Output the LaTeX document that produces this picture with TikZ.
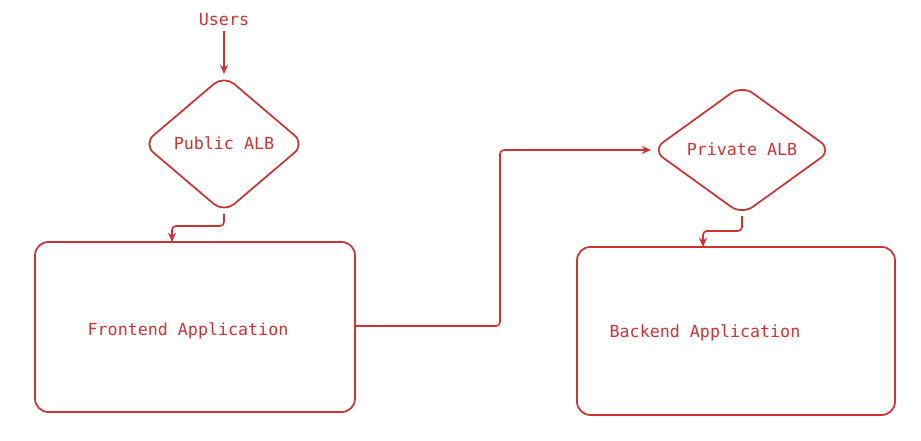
\documentclass[tikz,border=0pt]{standalone}
\usepackage{fontspec}
\setmonofont{DejaVu Sans Mono}
\usetikzlibrary{shapes.geometric,arrows.meta}
\definecolor{ink}{RGB}{201,52,52}
\begin{document}
\begin{tikzpicture}[x=0.75pt,y=-0.75pt,
  line/.style={draw=ink,line width=1.2pt,rounded corners=3pt},
  arr/.style={line,-{Stealth[length=7pt,width=6pt]}},
  lbl/.style={text=ink,font=\ttfamily\fontsize{12.5}{14}\selectfont},
  box/.style={draw=ink,line width=1.3pt,rounded corners=10pt,inner sep=0pt},
  dia/.style={diamond,draw=ink,line width=1.3pt,rounded corners=10pt,inner sep=0pt}]
\useasboundingbox (0,0) rectangle (921,441);
\node[lbl] (users) at (224,20) {Users};
\node[dia,minimum width=162pt*0.75,minimum height=138pt*0.75] (pub) at (224,144) {};
\node[lbl] at (224,143) {Public ALB};
\node[box,minimum width=320*0.75pt,minimum height=170*0.75pt] (fe) at (195,327) {};
\node[lbl] at (188,331) {Frontend Application};
\node[dia,minimum width=180pt*0.75,minimum height=130pt*0.75] (pri) at (742,150) {};
\node[lbl] at (742,149) {Private ALB};
\node[box,minimum width=318*0.75pt,minimum height=168*0.75pt] (be) at (736,331) {};
\node[lbl] at (705,333) {Backend Application};
\coordinate (feT) at (172,242);
\coordinate (beT) at (703,247);
\draw[arr] (users.south) -- (pub.north);
\draw[arr] (pub.south) -- (224,226) -- (172,226) -- (feT);
\draw[arr] (fe.east |- 0,326) -- (500,326) -- (500,150) -- (pri.west);
\draw[arr] (pri.south) -- (742,231) -- (703,231) -- (beT);
\end{tikzpicture}
\end{document}
